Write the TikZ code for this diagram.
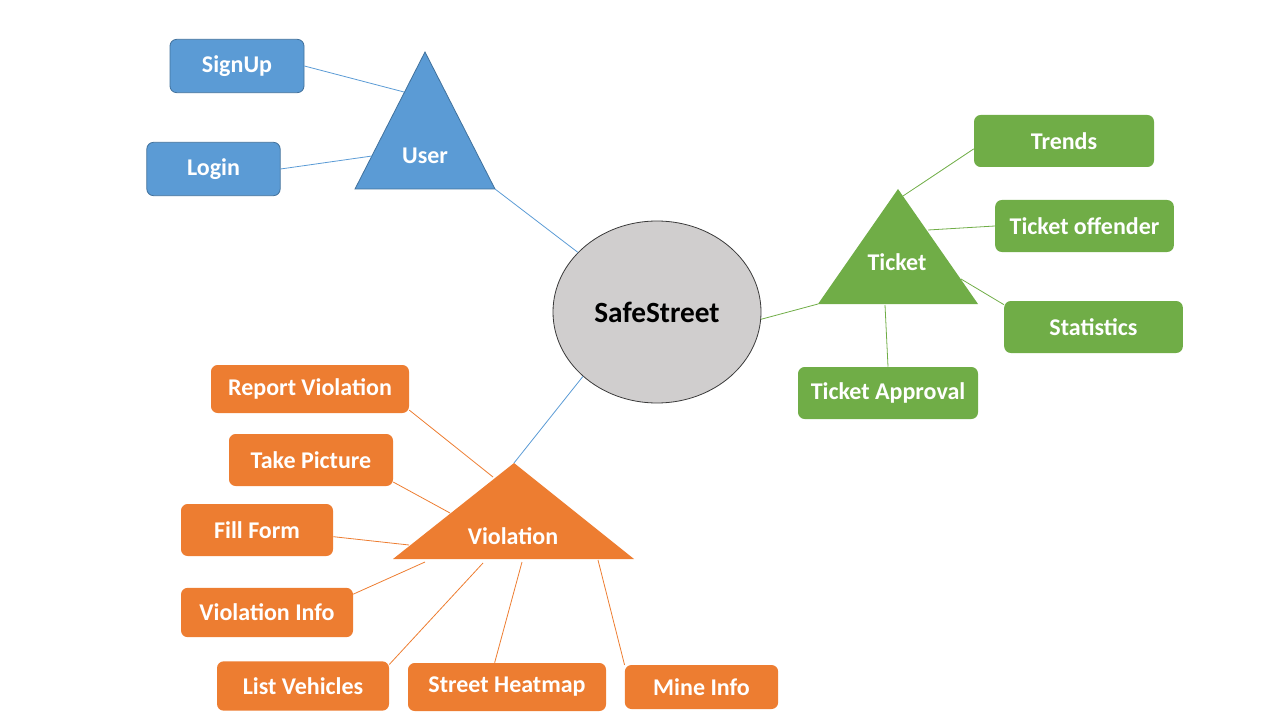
\documentclass[tikz,border=0pt]{standalone}
\usepackage{fontspec}
\setmainfont{Carlito}
\usetikzlibrary{shapes.geometric}

\definecolor{userblue}{HTML}{5B9BD5}
\definecolor{userborder}{HTML}{41719C}
\definecolor{ticketgreen}{HTML}{70AD47}
\definecolor{violorange}{HTML}{ED7D31}
\definecolor{hubgray}{HTML}{D0CECE}
\definecolor{hubborder}{HTML}{3A3A3A}

\begin{document}
\begin{tikzpicture}[x=0.75pt, y=-0.75pt,
        userbox/.style={rectangle, rounded corners=5pt, draw=userborder, line width=0.6pt, fill=userblue, text=white, font=\fontsize{18}{20}\selectfont\bfseries, minimum height=40pt},
        ticketbox/.style={rectangle, rounded corners=5pt, fill=ticketgreen, text=white, font=\fontsize{18}{20}\selectfont\bfseries, minimum height=39pt},
        violbox/.style={rectangle, rounded corners=5pt, fill=violorange, text=white, font=\fontsize{18}{20}\selectfont\bfseries, minimum height=37pt},
        hub/.style={ellipse, draw=hubborder, line width=0.6pt, fill=hubgray, minimum width=156pt, minimum height=136.5pt, inner sep=0pt, font=\fontsize{22}{24}\selectfont\bfseries},
        label/.style={text=white, font=\fontsize{18}{20}\selectfont\bfseries},
        userlink/.style={draw=userblue, line width=0.6pt},
        ticketlink/.style={draw=ticketgreen, line width=0.6pt},
        viollink/.style={draw=violorange, line width=0.6pt}
    ]
    \useasboundingbox (0,0) rectangle (1280,720);

    % Define the centre
    \node[hub] (safestreet) at (657,312) {SafeStreet};

    % Define triangles
    \coordinate (user-top) at (425,52);
    \coordinate (user-left) at (355,189);
    \coordinate (user-right) at (495,189);
    \filldraw[fill=userblue, draw=userborder, line width=0.6pt] (user-top) -- (user-left) -- (user-right) -- cycle;
    \node[label] (user) at (425,156) {User};

    \coordinate (ticket-top) at (898,189);
    \coordinate (ticket-left) at (818,304);
    \coordinate (ticket-right) at (978,304);
    \fill[ticketgreen] (ticket-top) -- (ticket-left) -- (ticket-right) -- cycle;
    \node[label] (ticket) at (897,262) {Ticket};

    \coordinate (viol-top) at (514,463);
    \coordinate (viol-left) at (393,559);
    \coordinate (viol-right) at (634,559);
    \fill[violorange] (viol-top) -- (viol-left) -- (viol-right) -- cycle;
    \node[label] (violation) at (513,536) {Violation};

    % Define user boxes
    \node[userbox, minimum width=100.5pt] (signup) at (237,66) {SignUp};
    \node[userbox, minimum width=100pt] (login) at (213.5,169) {Login};

    % Define ticket boxes
    \node[ticketbox, minimum width=135pt] (trends) at (1064,141) {Trends};
    \node[ticketbox, minimum width=134pt] (offender) at (1084.5,226) {Ticket offender};
    \node[ticketbox, minimum width=134pt] (statistics) at (1093.5,327) {Statistics};
    \node[ticketbox, minimum width=135pt] (approval) at (888,393) {Ticket Approval};

    % Define violation boxes
    \node[violbox, minimum width=148.5pt, minimum height=36pt] (report) at (310,389) {Report Violation};
    \node[violbox, minimum width=123pt, minimum height=39pt] (picture) at (311,460) {Take Picture};
    \node[violbox, minimum width=114pt, minimum height=39pt] (form) at (257,530) {Fill Form};
    \node[violbox, minimum width=129pt] (vinfo) at (267,612.5) {Violation Info};
    \node[violbox, minimum width=129pt] (vehicles) at (303,686) {List Vehicles};
    \node[violbox, minimum width=148.5pt, minimum height=36pt] (heatmap) at (507,687) {Street Heatmap};
    \node[violbox, minimum width=115pt, minimum height=33pt] (mine) at (701.5,687) {Mine Info};

    % Connection points on the triangles
    \coordinate (user-signup) at (404,92);
    \coordinate (user-login) at (372,156);
    \coordinate (ticket-trends) at (903,196);
    \coordinate (ticket-offender) at (928,230);
    \coordinate (ticket-statistics) at (961,279);
    \coordinate (ticket-approval) at (885,305);
    \coordinate (viol-report) at (493,477);
    \coordinate (viol-picture) at (450,513);
    \coordinate (viol-form) at (409,545);
    \coordinate (viol-vinfo) at (425,562);
    \coordinate (viol-vehicles) at (483,563);
    \coordinate (viol-heatmap) at (522,562);
    \coordinate (viol-mine) at (598,560);

    % Draw links to the centre
    \draw[userlink] (user-right) -- (safestreet.143);
    \draw[userlink] (safestreet.221) -- (viol-top);
    \draw[ticketlink] (safestreet.-4) -- (ticket-left);

    % Draw user links
    \draw[userlink] (signup.east) -- (user-signup);
    \draw[userlink] (login.east) -- (user-login);

    % Draw ticket links
    \draw[ticketlink] (trends.185) -- (ticket-trends);
    \draw[ticketlink] (offender.west) -- (ticket-offender);
    \draw[ticketlink] (statistics.166) -- (ticket-statistics);
    \draw[ticketlink] (approval.north) -- (ticket-approval);

    % Draw violation links
    \draw[viollink] (report.-12) -- (viol-report);
    \draw[viollink] (picture.-15) -- (viol-picture);
    \draw[viollink] (form.-5) -- (viol-form);
    \draw[viollink] (vinfo.12) -- (viol-vinfo);
    \draw[viollink] (vehicles.14) -- (viol-vehicles);
    \draw[viollink] (heatmap.117) -- (viol-heatmap);
    \draw[viollink] (mine.164) -- (viol-mine);

\end{tikzpicture}
\end{document}
